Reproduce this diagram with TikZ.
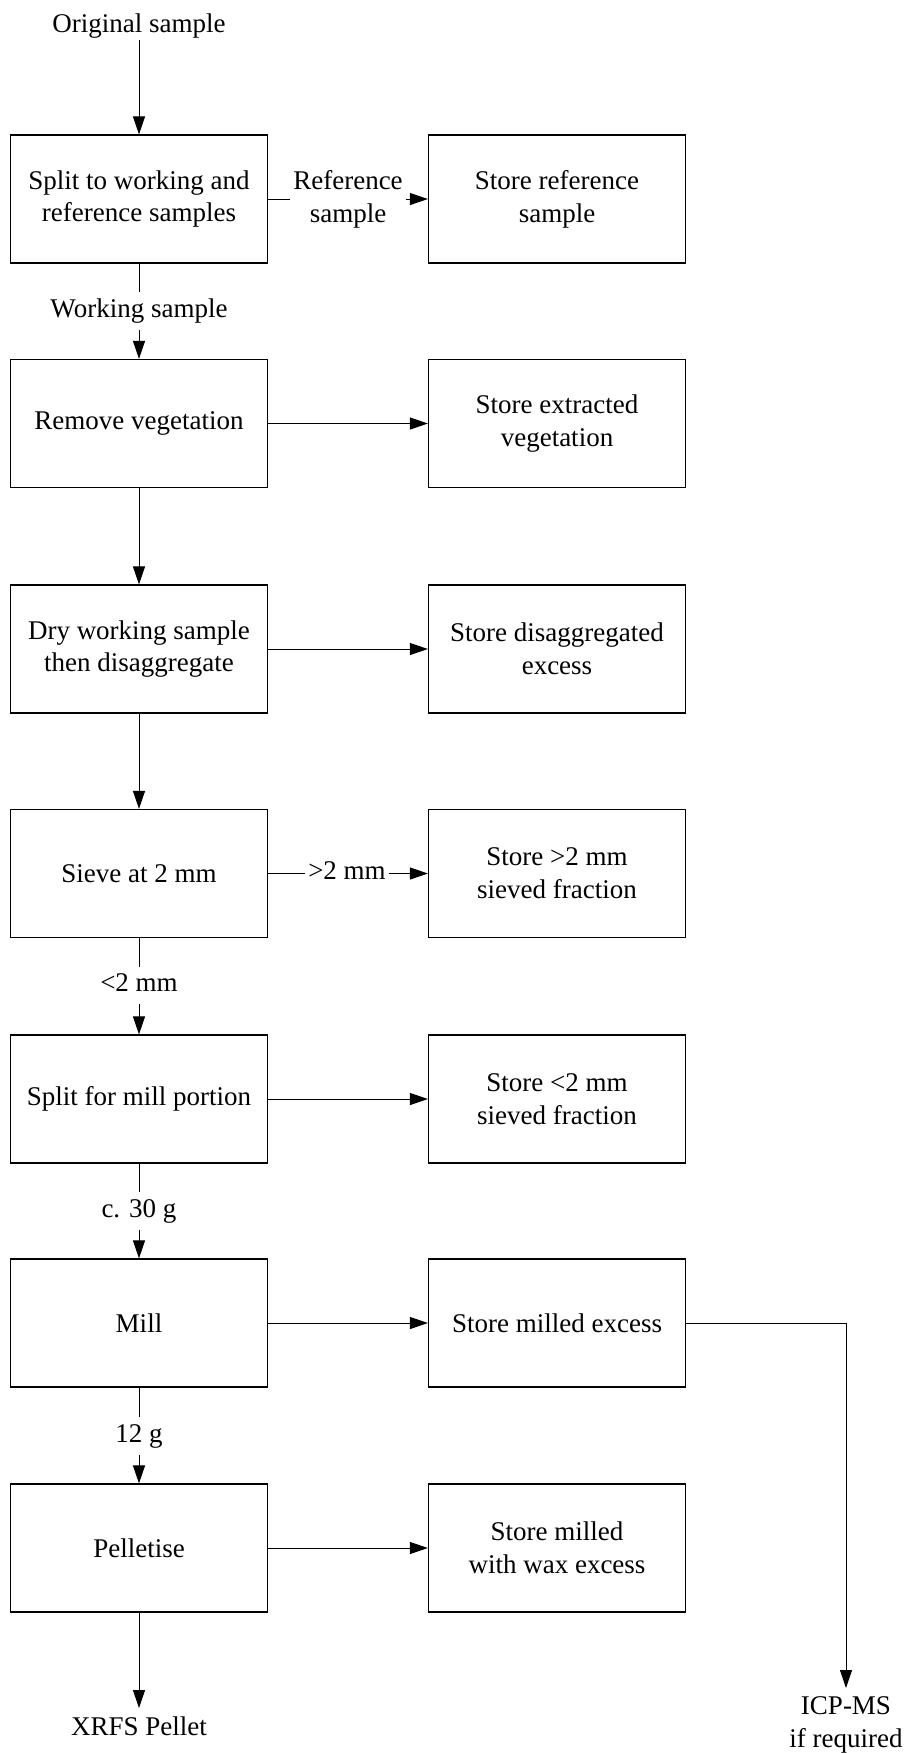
\documentclass[tikz,border=0pt]{standalone}
\usepackage{fontspec}
\setmainfont{Liberation Serif}
\usetikzlibrary{arrows.meta}
\begin{document}
\begin{tikzpicture}[x=0.5pt,y=-0.5pt,
  every node/.style={font=\fontsize{13.5pt}{16.4pt}\selectfont},
  box/.style={draw, line width=0.6pt, minimum width=128.5pt, minimum height=64pt, inner sep=0pt, align=center},
  lbl/.style={inner xsep=1.25pt, inner ysep=2.85pt, text height=9.45pt, text depth=3.375pt},
  hlbl/.style={inner xsep=1.25pt, inner ysep=0pt, align=center},
  conn/.style={line width=0.5pt},
  arr/.style={line width=0.5pt, -{Triangle[length=9pt,width=6pt]}},
]
\useasboundingbox (0,0) rectangle (906,1753);

% process boxes
\node[box] (split) at (139,199) {Split to working and\\reference samples};
\node[box] (refstore) at (557,199) {Store reference\\sample};
\node[box] (remove) at (139,423.5) {Remove vegetation};
\node[box] (veg) at (557,423.5) {Store extracted\\vegetation};
\node[box] (dry) at (139,649) {Dry working sample\\then disaggregate};
\node[box] (disagg) at (557,649) {Store disaggregated\\excess};
\node[box] (sieve) at (139,873.5) {Sieve at 2 mm};
\node[box] (coarse) at (557,873.5) {Store >2 mm\\sieved fraction};
\node[box] (splitmill) at (139,1099) {Split for mill portion};
\node[box] (fine) at (557,1099) {Store <2 mm\\sieved fraction};
\node[box] (mill) at (139,1323) {Mill};
\node[box] (milled) at (557,1323) {Store milled excess};
\node[box] (pellet) at (139,1548) {Pelletise};
\node[box] (wax) at (557,1548) {Store milled\\with wax excess};

% labels
\node[inner sep=0.5pt, text height=9.45pt, text depth=3.375pt] (orig) at (139,26) {Original sample};
\node[lbl] (wlab) at (139,311) {Working sample};
\node[hlbl] (rlab) at (348,199) {Reference\\sample};
\node[lbl] (gt) at (347,873.5) {>2 mm};
\node[lbl] (lt) at (139,985.5) {<2 mm};
\node[lbl] (c30) at (139,1211) {c. 30 g};
\node[lbl] (g12) at (139,1436) {12 g};
\node[anchor=north, inner ysep=4pt] (xrfs) at (139,1708) {XRFS Pellet};
\node[anchor=north, inner ysep=4pt, align=center] (icp) at (846,1688) {ICP-MS\\if required};

% connectors
\draw[arr] (orig.south) -- (split.north);
\draw[conn] (split.south) -- (wlab.north);
\draw[arr] (wlab.south) -- (remove.north);
\draw[conn] (split.east) -- (rlab.west);
\draw[arr] (rlab.east) -- (refstore.west);
\draw[arr] (remove.east) -- (veg.west);
\draw[arr] (remove.south) -- (dry.north);
\draw[arr] (dry.east) -- (disagg.west);
\draw[arr] (dry.south) -- (sieve.north);
\draw[conn] (sieve.east) -- (gt.west);
\draw[arr] (gt.east) -- (coarse.west);
\draw[conn] (sieve.south) -- (lt.north);
\draw[arr] (lt.south) -- (splitmill.north);
\draw[arr] (splitmill.east) -- (fine.west);
\draw[conn] (splitmill.south) -- (c30.north);
\draw[arr] (c30.south) -- (mill.north);
\draw[arr] (mill.east) -- (milled.west);
\draw[arr] (milled.east) -| (icp.north);
\draw[conn] (mill.south) -- (g12.north);
\draw[arr] (g12.south) -- (pellet.north);
\draw[arr] (pellet.east) -- (wax.west);
\draw[arr] (pellet.south) -- (xrfs.north);
\end{tikzpicture}
\end{document}
